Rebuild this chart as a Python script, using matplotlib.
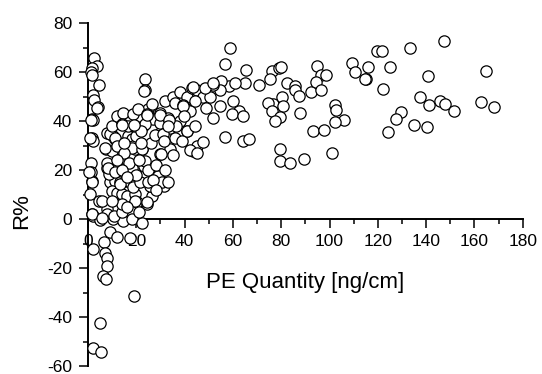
import matplotlib
matplotlib.use("Agg")
import matplotlib.pyplot as plt
from matplotlib.ticker import MultipleLocator

plt.rcParams['font.family'] = ['Liberation Sans', 'DejaVu Sans']
plt.rcParams['axes.unicode_minus'] = False

# PE quantity [ng/cm]
pe_quantity = [
    2.6, 3.6, 1.5, 1.1, 1.5, 4.7, 1.9, 2.5, 4.0, 1.5, 1.9, 1.5, 1.9, 1.2, 1.1, 1.5, 1.5, 0.8, 4.7, 1.5,
    2.2, 5.0, 1.0, 0.3, 1.7, 3.7, 1.4,
    8.0, 9.1, 12.1, 17.4, 2.2, 6.6, 7.0, 7.7, 8.0, 6.3, 7.5, 19.0, 5.0, 1.9, 5.3, 7.7, 10.5, 14.3, 18.1,
    22.3, 5.8, 10.6, 14.1,
    9.3, 11.2, 13.1, 15.2, 17.2, 9.8, 11.9, 13.9, 16.0, 19.5, 20.1, 24.3, 26.4, 26.0, 31.5, 18.8, 13.9,
    5.8, 9.9, 19.6, 24.4, 7.9, 8.6, 13.4, 21.7, 25.8, 29.3, 18.2, 23.0, 7.7, 8.4, 11.2, 29.8, 29.1, 24.9,
    30.6, 13.9, 22.2, 23.6, 16.7, 18.1, 18.8, 19.5, 7.7, 10.5, 11.2, 7.5, 9.8, 7.2, 14.1, 18.2, 22.4,
    29.9, 34.1, 9.2, 11.3,
    12.0, 15.0, 17.0, 20.0, 21.0, 25.0, 27.0, 28.0, 32.0, 14.0, 16.0, 12.0, 26.0, 30.0, 34.0, 36.0, 38.0,
    27.0, 25.0, 32.0, 35.0, 38.0, 41.0, 30.0, 20.0, 22.0, 15.0, 10.0, 12.0, 28.0, 33.0, 16.0, 21.0,
    23.6, 23.6, 23.3, 26.4, 14.6, 18.8, 20.6, 24.3, 13.9, 16.7, 19.5, 22.9, 23.6, 21.8, 27.7, 29.8, 33.2,
    31.2, 31.5, 35.3, 30.1, 36.0, 39.2, 40.2, 42.2, 36.4, 40.9, 38.8, 43.6, 45.0, 42.9, 29.9, 33.4, 33.0,
    14.1, 18.9, 24.4,
    58.8, 56.7, 65.3, 70.7, 64.9, 58.5, 54.9, 54.7, 51.9, 45.0, 43.3, 47.7, 50.5, 44.3, 39.5, 48.9, 54.7,
    59.9, 62.7, 59.5, 64.0, 51.9, 39.8, 40.9, 44.3, 47.7, 42.2, 45.0, 56.7, 64.3, 66.7, 60.9, 48.4, 51.9,
    76.1, 79.1, 79.9, 75.4, 76.7, 74.7, 80.2, 80.9, 76.1, 79.5, 77.4, 82.2, 85.7, 85.7, 87.5, 92.2, 95.0,
    96.5, 98.4, 94.4, 96.4, 87.8, 79.5, 79.5, 83.6, 89.4, 93.3, 97.8, 100.9, 102.3, 102.7, 106.2, 102.3,
    109.2, 110.6, 115.0, 116.1, 119.8, 121.6, 133.3, 147.4, 164.8, 125.2, 114.8, 140.8, 122.3, 137.3,
    141.1, 145.8, 147.8, 151.4, 162.9, 168.1, 129.5, 127.4, 124.1, 135.0, 140.2,
]

# R [%]
r_percent = [
    65.9, 62.5, 61.6, 60.2, 58.8, 54.8, 50.7, 48.7, 45.7, 41.0, 40.3, 33.2, 31.8, 23.0, 19.0, 15.5, 14.9,
    10.1, 7.4, 2.0, 1.3, -0.3, 33.2, 19.0, 2.0, 45.3, 40.6,
    4.1, -5.4, -7.4, -7.7, -12.2, -9.5, -13.8, -16.0, -19.2, -23.3, -24.6, -31.4, -42.6, -52.5, -54.1,
    2.0, 0.0, -0.7, 0.0, -1.6, 0.5, 1.2, 2.7,
    14.9, 15.5, 14.9, 15.5, 14.9, 11.5, 10.8, 10.1, 9.5, 10.1, 6.8, 6.1, 9.5, 13.5, 13.3, 12.9, 6.1,
    7.4, 7.4, 7.4, 6.8, 21.0, 18.3, 14.2, 14.9, 13.5, 18.3, 21.0, 21.6, 23.0, 21.0, 19.2, 19.0, 17.6,
    15.0, 15.0, 24.4, 28.4, 23.7, 33.8, 32.5, 29.7, 28.4, 35.2, 33.8, 32.5, 28.4, 27.7, 29.1, 25.0, 29.1,
    28.4, 26.4, 28.4, 34.5, 33.2,
    30.0, 27.0, 23.0, 18.0, 24.0, 20.0, 16.0, 22.0, 20.0, 20.0, 17.0, 24.0, 31.0, 35.0, 37.0, 33.0, 40.0,
    41.0, 45.0, 48.0, 50.0, 52.0, 50.0, 39.0, 34.0, 31.0, 31.0, 38.0, 42.0, 12.0, 15.0, 5.0, 3.0,
    57.2, 52.8, 52.1, 47.0, 43.3, 42.9, 44.9, 42.9, 38.8, 37.9, 38.1, 37.9, 38.6, 36.1, 34.1, 43.3, 41.3,
    34.5, 31.8, 26.0, 26.4, 47.4, 46.7, 45.3, 44.2, 37.9, 35.8, 31.8, 27.7, 29.7, 53.5, 42.6, 40.6, 38.0,
    38.5, 38.2, 42.6,
    69.8, 63.4, 60.9, 54.8, 55.5, 54.1, 56.3, 52.8, 54.8, 52.8, 53.9, 49.8, 50.0, 48.0, 46.3, 45.3, 46.0,
    48.0, 44.0, 42.9, 42.2, 41.3, 42.2, 36.1, 37.9, 31.5, 28.0, 26.8, 33.6, 32.0, 32.7, 55.5, 53.5, 55.5,
    60.6, 61.6, 62.2, 57.1, 47.1, 47.4, 50.0, 46.0, 44.0, 41.7, 39.9, 55.5, 54.4, 52.8, 50.3, 51.7, 62.5,
    58.8, 58.8, 56.1, 52.5, 43.3, 28.4, 23.7, 22.7, 24.6, 35.8, 36.5, 27.1, 46.7, 44.6, 40.3, 39.5,
    63.8, 59.9, 57.2, 62.0, 68.6, 68.6, 69.7, 72.8, 60.6, 62.0, 57.2, 58.4, 52.9, 49.9,
    46.5, 48.3, 47.1, 44.0, 47.9, 45.9, 43.5, 40.9, 35.6, 38.3, 37.7,
]

x_label = "PE Quantity [ng/cm]"
y_label = "R%"

W, H = 542, 374
fig = plt.figure(figsize=(W / 100, H / 100), dpi=100)
ax = fig.add_axes([88 / W, 1 - 366 / H, (522.7 - 88) / W, (366 - 23) / H])

ax.scatter(pe_quantity, r_percent, s=66, facecolors='white', edgecolors='black',
           linewidths=0.9, zorder=3, clip_on=False)

ax.set_xlim(0, 180)
ax.set_ylim(-60, 80)
ax.spines['top'].set_visible(False)
ax.spines['right'].set_visible(False)
ax.spines['bottom'].set_position(('data', 0))
for s in ('left', 'bottom'):
    ax.spines[s].set_linewidth(1.4)

ax.xaxis.set_major_locator(MultipleLocator(20))
ax.xaxis.set_minor_locator(MultipleLocator(10))
ax.yaxis.set_major_locator(MultipleLocator(20))
ax.yaxis.set_minor_locator(MultipleLocator(10))
ax.tick_params(which='major', direction='out', length=6.5, width=1.1, labelsize=12.5, pad=4)
ax.tick_params(which='minor', direction='out', length=3.5, width=1.1)
ax.tick_params(axis='y', pad=5)

fig.text(305 / W, 1 - 288 / H, x_label, ha='center', va='baseline', fontsize=16)
fig.text(22 / W, 1 - 211 / H, y_label, ha='center', va='center', rotation=90, fontsize=16)

fig.savefig("out.png", dpi=100)
